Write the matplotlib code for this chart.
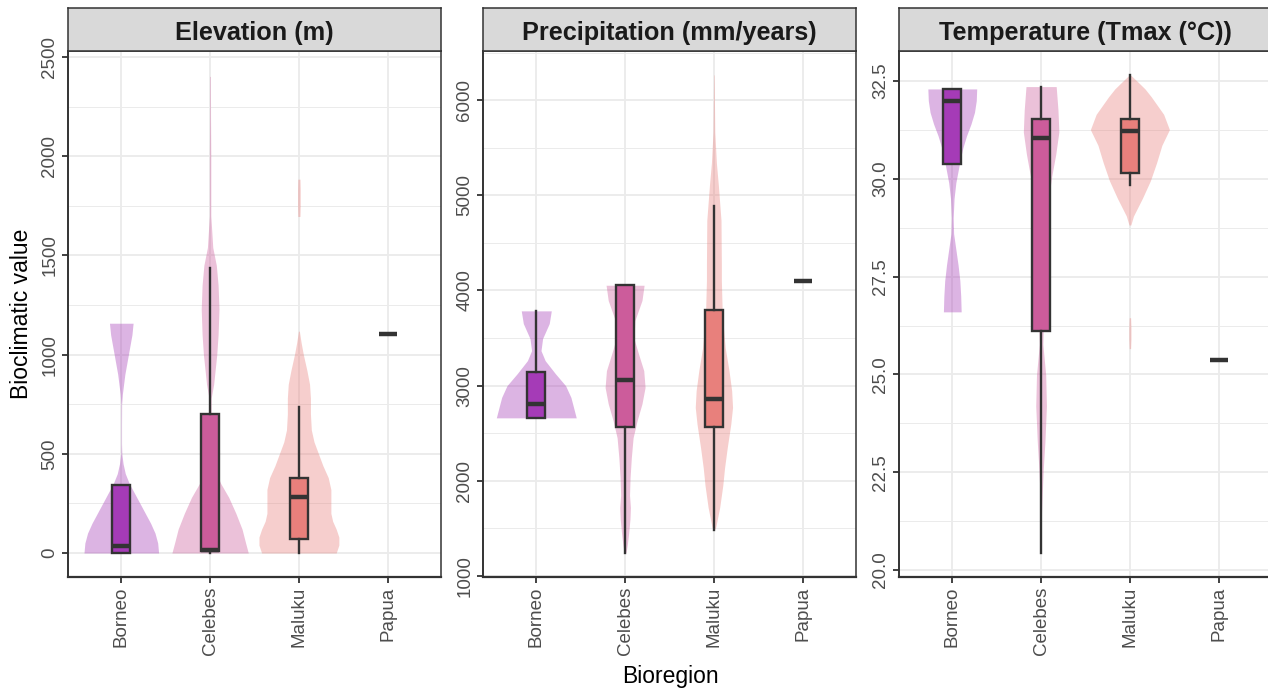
import numpy as np
import matplotlib
matplotlib.use("Agg")
import matplotlib.pyplot as plt

plt.rcParams['font.family'] = ['Liberation Sans', 'DejaVu Sans']

# categories and colours
regions = ['Borneo', 'Celebes', 'Maluku', 'Papua']
box_colors = ['#A53BB7', '#CC5C9B', '#E8807C', '#E8807C']
panel_titles = ['Elevation (m)', 'Precipitation (mm/years)', 'Temperature (Tmax (°C))']

# violin outlines: value levels and half widths
elev_borneo_y = [0, 50, 100, 150, 200, 250, 300, 350, 400, 450, 500, 550, 650, 750, 800, 900, 1000, 1100, 1158]
elev_borneo_w = [0.42, 0.41, 0.38, 0.33, 0.27, 0.21, 0.15, 0.09, 0.045, 0.02, 0.006, 0.003, 0.003, 0.004, 0.012, 0.04, 0.08, 0.12, 0.133]
elev_celebes_y = [0, 50, 120, 200, 280, 350, 430, 500, 600, 700, 780, 850, 1000, 1100, 1230, 1350, 1450, 1540, 1700, 2000, 2200, 2402]
elev_celebes_w = [0.43, 0.40, 0.36, 0.29, 0.21, 0.12, 0.04, 0.02, 0.015, 0.012, 0.012, 0.04, 0.075, 0.09, 0.10, 0.09, 0.07, 0.03, 0.008, 0.008, 0.005, 0.004]
elev_maluku_y = [0, 40, 80, 120, 160, 200, 260, 320, 380, 440, 500, 560, 620, 700, 780, 850, 920, 1000, 1060, 1118]
elev_maluku_w = [0.42, 0.45, 0.45, 0.42, 0.38, 0.36, 0.36, 0.36, 0.33, 0.27, 0.22, 0.17, 0.14, 0.13, 0.13, 0.12, 0.09, 0.05, 0.025, 0.005]
elev_maluku2_y = [1696, 1750, 1830, 1884]
elev_maluku2_w = [0.012, 0.015, 0.015, 0.012]

prec_borneo_y = [2662, 2770, 2877, 3000, 3126, 3263, 3368, 3495, 3653, 3786]
prec_borneo_w = [0.45, 0.42, 0.39, 0.33, 0.215, 0.10, 0.053, 0.071, 0.146, 0.169]
prec_celebes_y = [1245, 1330, 1450, 1600, 1720, 1850, 2032, 2242, 2453, 2632, 2810, 2982, 3158, 3337, 3495, 3684, 3895, 4055]
prec_celebes_w = [0.01, 0.025, 0.04, 0.055, 0.06, 0.05, 0.056, 0.07, 0.09, 0.135, 0.19, 0.225, 0.21, 0.15, 0.10, 0.11, 0.19, 0.214]
prec_maluku_y = [1487, 1510, 1720, 1952, 2137, 2347, 2596, 2772, 2947, 3158, 3400, 3758, 4105, 4273, 4737, 5108, 5340, 5665, 6000, 6265]
prec_maluku_w = [0.005, 0.02, 0.065, 0.10, 0.12, 0.15, 0.19, 0.21, 0.20, 0.17, 0.127, 0.094, 0.084, 0.084, 0.08, 0.05, 0.028, 0.01, 0.006, 0.003]

temp_borneo_y = [26.6, 27.0, 27.4, 27.8, 28.2, 28.6, 29.0, 29.5, 29.9, 30.2, 30.5, 30.8, 31.1, 31.4, 31.7, 32.0, 32.3]
temp_borneo_w = [0.10, 0.095, 0.085, 0.065, 0.04, 0.015, 0.01, 0.02, 0.04, 0.065, 0.09, 0.12, 0.16, 0.21, 0.25, 0.27, 0.275]
temp_celebes_y = [20.43, 21.0, 21.47, 21.92, 22.6, 23.28, 24.19, 24.98, 25.77, 26.67, 27.8, 28.94, 29.5, 30.07, 30.63, 31.2, 31.76, 32.36]
temp_celebes_w = [0.003, 0.003, 0.005, 0.012, 0.025, 0.043, 0.06, 0.052, 0.02, 0.03, 0.05, 0.065, 0.085, 0.12, 0.165, 0.20, 0.19, 0.17]
temp_maluku_y = [28.82, 29.05, 29.5, 29.95, 30.41, 30.86, 31.26, 31.65, 32.1, 32.3, 32.5, 32.65]
temp_maluku_w = [0.01, 0.04, 0.14, 0.23, 0.30, 0.36, 0.445, 0.38, 0.24, 0.17, 0.08, 0.01]
temp_maluku2_y = [25.66, 25.9, 26.2, 26.45]
temp_maluku2_w = [0.008, 0.012, 0.012, 0.008]

# box statistics per region: lower whisker, q1, median, q3, upper whisker
elev_box = [[0, 0, 33, 344, 344], [0, 11, 16, 702, 1436], [0, 69, 280, 378, 736], [1102, 1102, 1102, 1102, 1102]]
prec_box = [[2662, 2662, 2806, 3145, 3786], [1241, 2569, 3060, 4055, 4055], [1487, 2561, 2863, 3800, 4886], [4101, 4101, 4101, 4101, 4101]]
temp_box = [[30.38, 30.38, 31.99, 32.30, 32.30], [20.43, 26.11, 31.05, 31.54, 32.36], [29.84, 30.15, 31.23, 31.54, 32.65], [25.37, 25.37, 25.37, 25.37, 25.37]]

violins = [
    [(0, elev_borneo_y, elev_borneo_w), (1, elev_celebes_y, elev_celebes_w),
     (2, elev_maluku_y, elev_maluku_w), (2, elev_maluku2_y, elev_maluku2_w)],
    [(0, prec_borneo_y, prec_borneo_w), (1, prec_celebes_y, prec_celebes_w),
     (2, prec_maluku_y, prec_maluku_w)],
    [(0, temp_borneo_y, temp_borneo_w), (1, temp_celebes_y, temp_celebes_w),
     (2, temp_maluku_y, temp_maluku_w), (2, temp_maluku2_y, temp_maluku2_w)],
]
boxes = [elev_box, prec_box, temp_box]
ylims = [(-121, 2530), (990, 6516), (19.82, 33.27)]
major_ticks = [np.arange(0, 2501, 500), np.arange(1000, 6001, 1000), np.arange(20, 32.6, 2.5)]
minor_ticks = [np.arange(-250, 2600, 500), np.arange(500, 6600, 1000), np.arange(18.75, 34, 2.5)]
tick_fmt = ['{:.0f}', '{:.0f}', '{:.1f}']

W, H = 1268, 691
fig = plt.figure(figsize=(W / 100, H / 100), dpi=100)
lefts = [68, 483, 899]
pw = 373
top, bottom, strip_top = 51, 577, 8
dark = '#333333'

for i in range(3):
    ax = fig.add_axes([lefts[i] / W, 1 - bottom / H, pw / W, (bottom - top) / H])
    ax.set_xlim(-0.6, 3.6)
    ax.set_ylim(*ylims[i])
    ax.set_yticks(major_ticks[i])
    ax.set_yticklabels([tick_fmt[i].format(v) for v in major_ticks[i]], rotation=90, va='center')
    ax.set_yticks([v for v in minor_ticks[i] if ylims[i][0] < v < ylims[i][1]], minor=True)
    ax.set_xticks(range(4))
    ax.set_xticklabels(regions, rotation=90)
    ax.grid(which='major', color='#EBEBEB', lw=1.3, zorder=0)
    ax.grid(which='minor', axis='y', color='#EBEBEB', lw=0.7, zorder=0)
    ax.set_axisbelow(True)
    ax.tick_params(which='major', length=4, width=1.3, color=dark, labelsize=13.5,
                   labelcolor='#4D4D4D', pad=3)
    ax.tick_params(which='minor', length=0)
    for s in ax.spines.values():
        s.set_color(dark)
        s.set_linewidth(1.1)
    ax.spines['bottom'].set_linewidth(1.6)
    ax.spines['left'].set_linewidth(1.4)

    for pos, vy, vw in violins[i]:
        vy = np.array(vy, dtype=float)
        vw = np.array(vw)
        ax.fill_betweenx(vy, pos - vw, pos + vw, color=box_colors[pos], alpha=0.38, lw=0, zorder=2)

    stats = []
    for lo, q1, med, q3, hi in boxes[i]:
        stats.append(dict(whislo=lo, q1=q1, med=med, q3=q3, whishi=hi, fliers=[]))
    bp = ax.bxp(stats, positions=range(4), widths=0.2, patch_artist=True, showcaps=False,
                showfliers=False, manage_ticks=False,
                boxprops=dict(edgecolor=dark, linewidth=1.7),
                whiskerprops=dict(color=dark, linewidth=1.7),
                medianprops=dict(color=dark, linewidth=3.2, solid_capstyle='butt'))
    for patch, c in zip(bp['boxes'], box_colors):
        patch.set_facecolor(c)
        patch.set_zorder(3)
    for ln in bp['whiskers'] + bp['medians']:
        ln.set_zorder(4)

    # facet strip
    sax = fig.add_axes([lefts[i] / W, 1 - top / H, pw / W, (top - strip_top) / H])
    sax.set_facecolor('#D9D9D9')
    sax.set_xticks([])
    sax.set_yticks([])
    for s in sax.spines.values():
        s.set_color(dark)
        s.set_linewidth(1.1)
    sax.text(0.5, 0.42, panel_titles[i], transform=sax.transAxes, ha='center', va='center',
             fontsize=18.2, fontweight='bold', color='#1A1A1A')

fig.text(22 / W, 1 - 314 / H, 'Bioclimatic value', rotation=90, ha='center', va='center', fontsize=16.5)
fig.text(670 / W, 1 - 676 / H, 'Bioregion', ha='center', va='center', fontsize=16.5)

fig.savefig('out.png', dpi=100)
